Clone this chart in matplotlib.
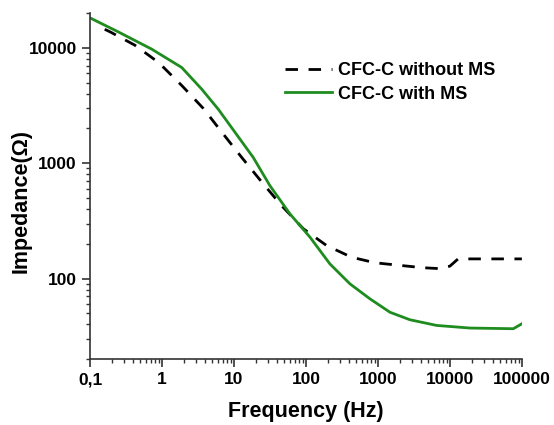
import numpy as np
import matplotlib
matplotlib.use("Agg")
import matplotlib.pyplot as plt
from matplotlib.ticker import FixedLocator, FixedFormatter, LogLocator, NullFormatter

plt.rcParams['font.family'] = ['Liberation Sans', 'DejaVu Sans']
plt.rcParams['font.weight'] = 'bold'

# CFC-C without MS (dashed)
freq_without = [0.16, 0.194, 0.42, 0.90, 1.9, 3.76, 7.1, 12.8, 23.5, 44.6, 92, 194, 430,
                908, 2020, 4260, 7000, 10000, 13000, 100000]
z_without = [14500, 13680, 10550, 7460, 4690, 2980, 1790, 1123, 705, 437, 270, 193, 153,
             137, 130, 124, 122, 128, 148, 148]

# CFC-C with MS (solid green)
freq_with = [0.1, 0.247, 0.72, 1.88, 3.56, 6.05, 18.5, 31.6, 60, 114, 215,
             408, 774, 1470, 2780, 6530, 19000, 76000, 100000]
z_with = [18200, 13760, 9750, 6760, 4390, 2940, 1123, 638, 363, 228, 134,
          90, 66.7, 51, 43.9, 39.2, 37.2, 36.7, 40.5]

x_ticks = [0.1, 1, 10, 100, 1000, 10000, 100000]
x_labels = ['0,1', '1', '10', '100', '1000', '10000', '100000']
y_ticks = [100, 1000, 10000]
y_labels = ['100', '1000', '10000']

fig = plt.figure(figsize=(5.54, 4.25), dpi=100)
ax = fig.add_axes([0.1625, 0.155, 0.7795, 0.814])

ax.plot(freq_without, z_without, color='black', lw=2.0, linestyle=(0, (4.5, 3.8)),
        label='CFC-C without MS')
ax.plot(freq_with, z_with, color='#1e8c1e', lw=2.0, label='CFC-C with MS')

ax.set_xscale('log')
ax.set_yscale('log')
ax.set_xlim(0.1, 100000)
ax.set_ylim(20, 20000)

ax.xaxis.set_major_locator(FixedLocator(x_ticks))
ax.xaxis.set_major_formatter(FixedFormatter(x_labels))
ax.xaxis.set_minor_locator(LogLocator(base=10, subs=np.arange(2, 10)))
ax.xaxis.set_minor_formatter(NullFormatter())
ax.yaxis.set_major_locator(FixedLocator(y_ticks))
ax.yaxis.set_major_formatter(FixedFormatter(y_labels))
ax.yaxis.set_minor_locator(LogLocator(base=10, subs=np.arange(2, 10)))
ax.yaxis.set_minor_formatter(NullFormatter())

for s in ['top', 'right']:
    ax.spines[s].set_visible(False)
for s in ['left', 'bottom']:
    ax.spines[s].set_color('#333333')
    ax.spines[s].set_linewidth(1.2)

ax.tick_params(which='major', direction='out', length=6, width=1.2, color='#333333',
               labelsize=12.5)
ax.tick_params(which='minor', direction='out', length=3, width=1.0, color='#333333')

ax.set_xlabel('Frequency (Hz)', fontsize=15.5, fontweight='bold', labelpad=10)
ax.set_ylabel('Impedance(Ω)', fontsize=15.5, fontweight='bold')
ax.yaxis.set_label_coords(-0.135, 0.457)

leg = ax.legend(loc='upper left', bbox_to_anchor=(0.415, 0.905), frameon=False,
                fontsize=13, handlelength=2.6, handletextpad=0.3, labelspacing=0.35)

fig.savefig('out.png', dpi=100)
